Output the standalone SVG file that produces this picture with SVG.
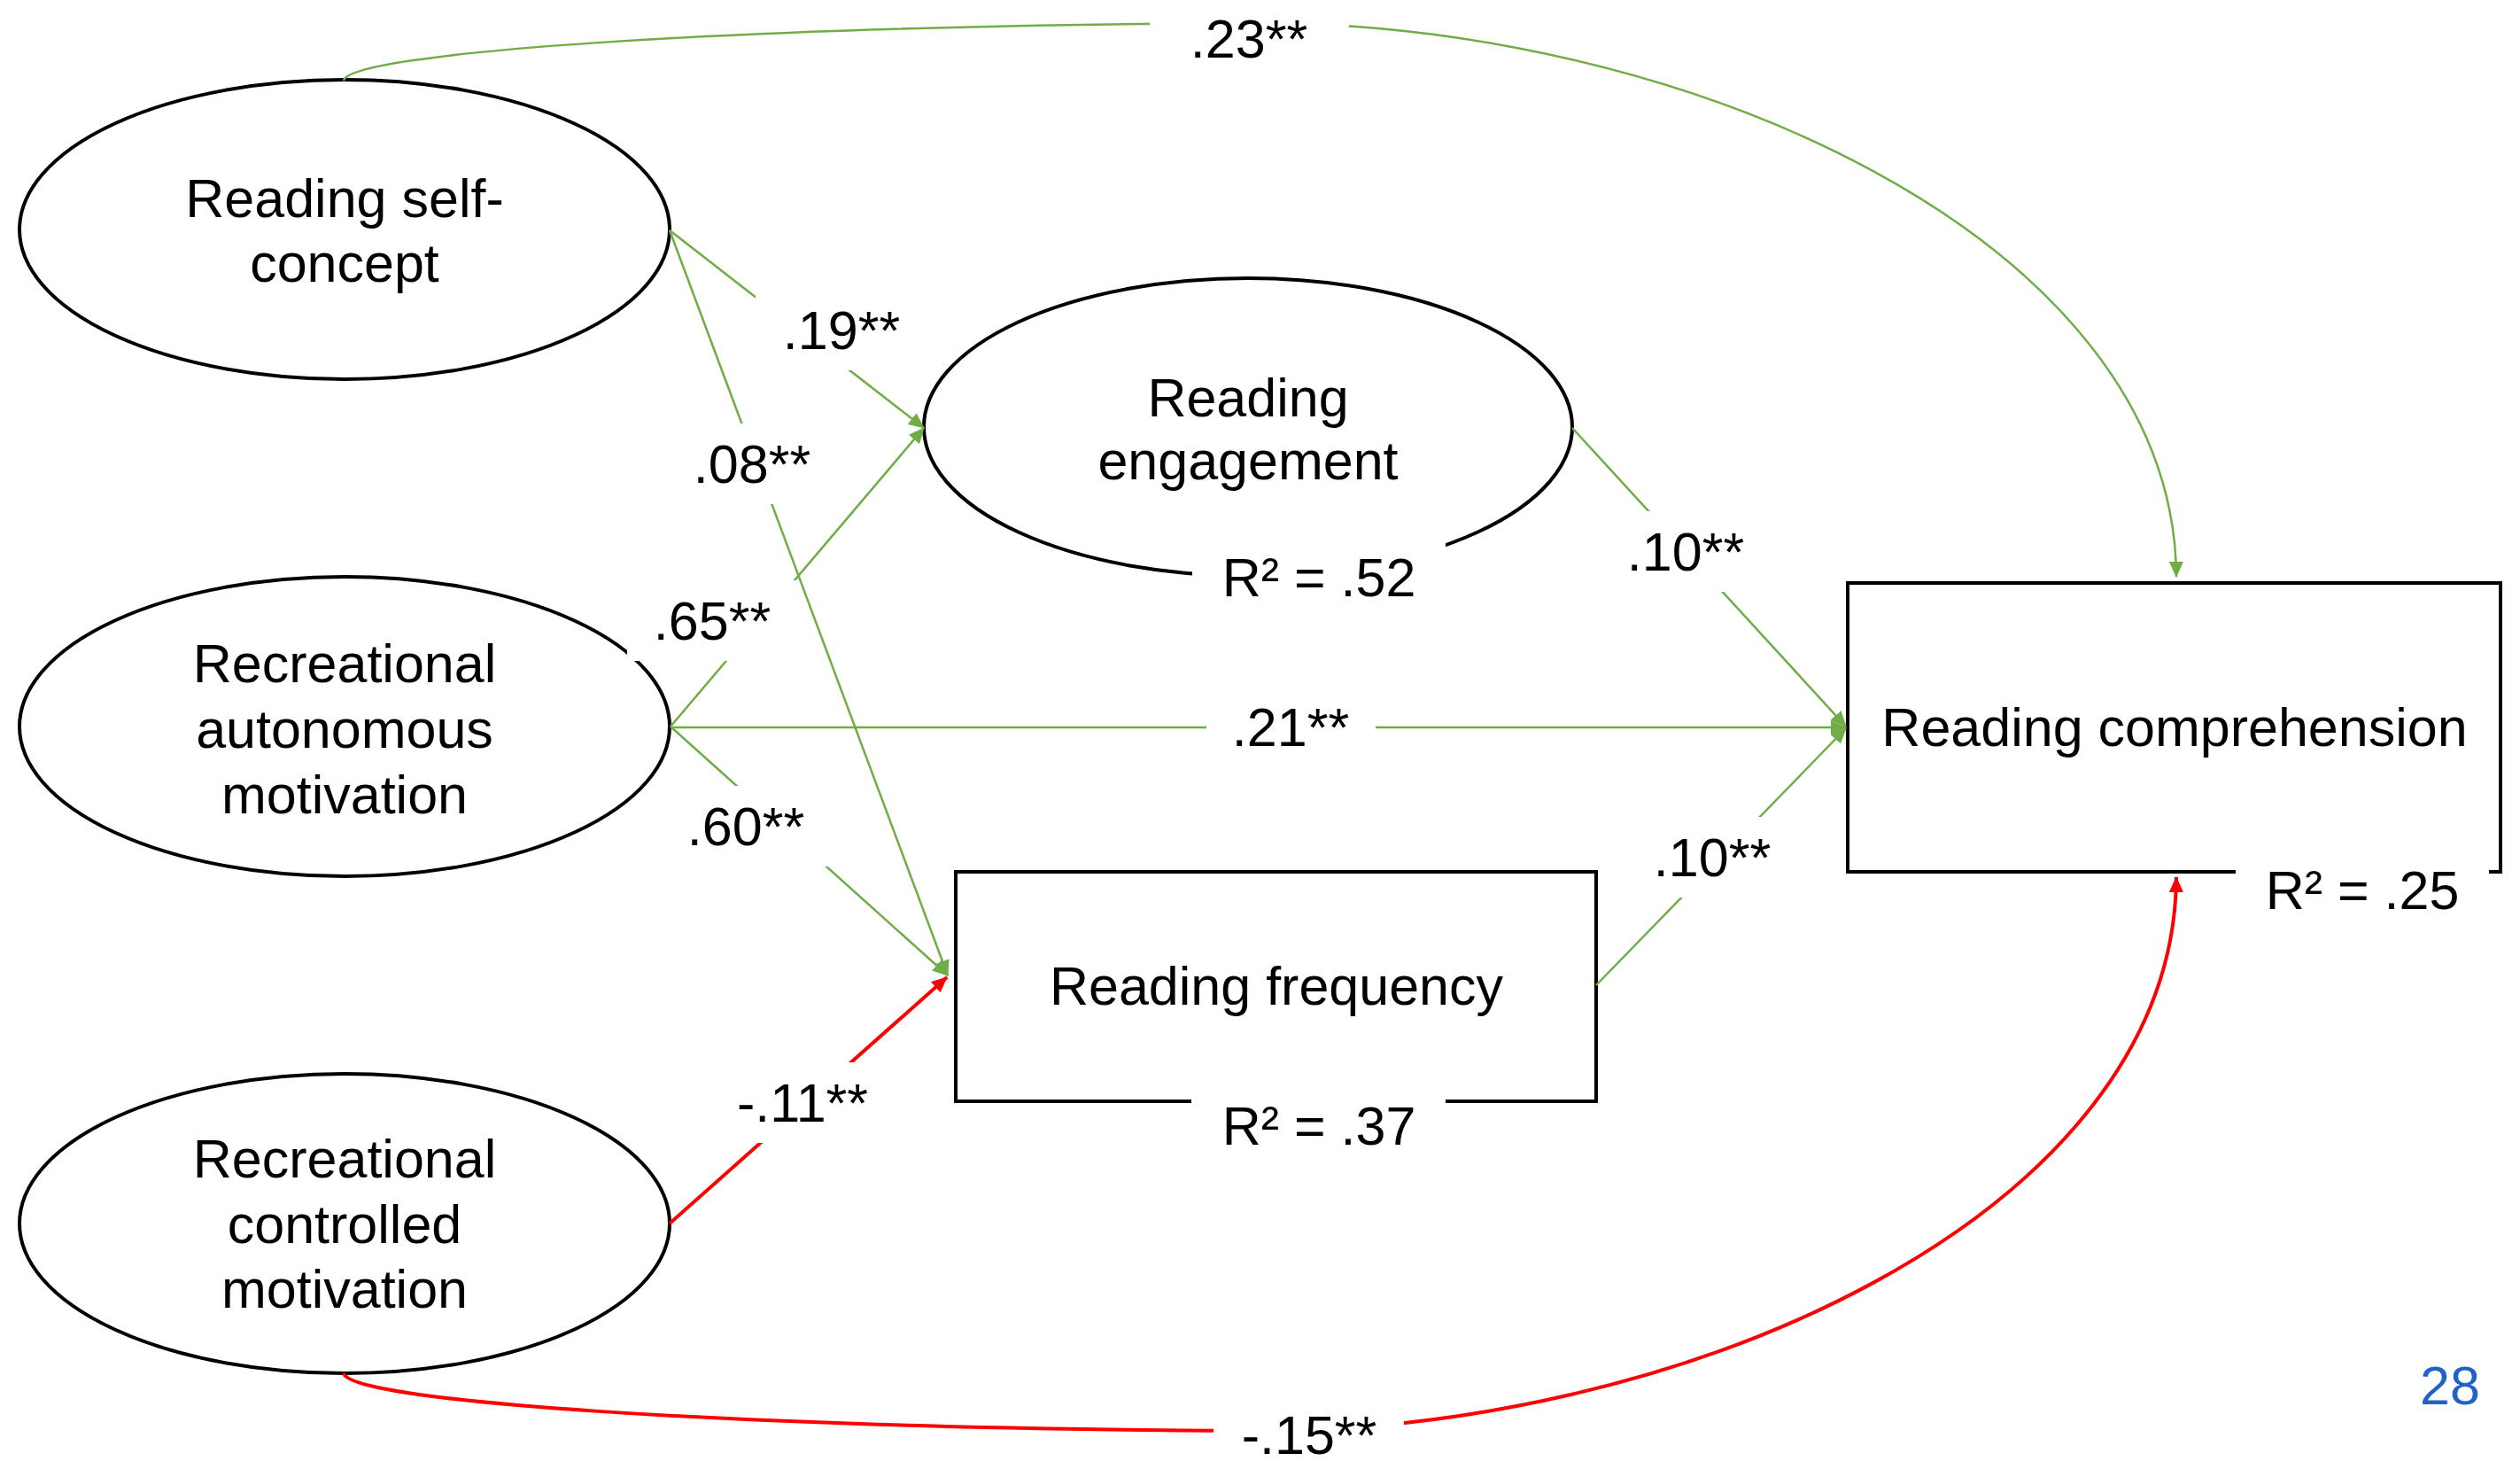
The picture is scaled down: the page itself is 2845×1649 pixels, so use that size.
<svg xmlns="http://www.w3.org/2000/svg" width="2845" height="1649" viewBox="0 0 2845 1649">
<style>
.node{fill:#fff;stroke:#000;stroke-width:4}
.t{font-family:"Liberation Sans",Arial,sans-serif;font-size:61px;fill:#000;text-anchor:middle}
.g{fill:none;stroke:#70AD47;stroke-width:2.5}
.r{fill:none;stroke:#FF0000;stroke-width:4}
.bg{fill:#fff;stroke:none}
</style>
<defs>
<marker id="ag" markerUnits="userSpaceOnUse" markerWidth="18" markerHeight="16" refX="17" refY="8" orient="auto"><path d="M0,0 L18,8 L0,16 z" fill="#70AD47"/></marker>
<marker id="ar" markerUnits="userSpaceOnUse" markerWidth="18" markerHeight="16" refX="17" refY="8" orient="auto"><path d="M0,0 L18,8 L0,16 z" fill="#FF0000"/></marker>
</defs>
<rect width="2845" height="1649" fill="#fff"/>
<g id="self-concept"><ellipse class="node" cx="389" cy="259" rx="367" ry="169"/><text class="t" x="389" y="245">Reading self-</text><text class="t" x="389" y="318">concept</text></g>
<g id="autonomous"><ellipse class="node" cx="389" cy="820" rx="367" ry="169"/><text class="t" x="389" y="770">Recreational</text><text class="t" x="389" y="844">autonomous</text><text class="t" x="389" y="918">motivation</text></g>
<g id="controlled"><ellipse class="node" cx="389" cy="1381" rx="367" ry="169"/><text class="t" x="389" y="1329">Recreational</text><text class="t" x="389" y="1403">controlled</text><text class="t" x="389" y="1476">motivation</text></g>
<g id="engagement"><ellipse class="node" cx="1409" cy="482" rx="366" ry="168"/><text class="t" x="1409" y="470">Reading</text><text class="t" x="1409" y="541">engagement</text></g>
<g id="frequency"><rect class="node" x="1079" y="984" width="723" height="259"/><text class="t" x="1441" y="1134">Reading frequency</text></g>
<g id="comprehension"><rect class="node" x="2086" y="658" width="737" height="326"/><text class="t" x="2455" y="842">Reading comprehension</text></g>
<g id="connectors">
<path class="g" d="M388,91 C395,60 800,30 1400,26 C1900,20 2455,270 2457,651" marker-end="url(#ag)"/>
<path class="r" d="M388,1550 C395,1581 800,1611 1400,1615 C1900,1621 2455,1371 2457,990" marker-end="url(#ar)"/>
<line class="g" x1="756" y1="260" x2="1043" y2="483" marker-end="url(#ag)"/>
<line class="g" x1="756" y1="260" x2="1070" y2="1101" marker-end="url(#ag)"/>
<line class="g" x1="757" y1="820" x2="1043" y2="483" marker-end="url(#ag)"/>
<line class="g" x1="757" y1="820" x2="1070" y2="1101" marker-end="url(#ag)"/>
<line class="g" x1="757" y1="821" x2="2084" y2="821" marker-end="url(#ag)"/>
<line class="r" x1="756" y1="1381" x2="1069" y2="1103" marker-end="url(#ar)"/>
<line class="g" x1="1775" y1="483" x2="2084" y2="820" marker-end="url(#ag)"/>
<line class="g" x1="1802" y1="1112" x2="2084" y2="822" marker-end="url(#ag)"/>
<rect class="bg" x="1298" y="-2" width="225" height="91"/><text class="t" x="1410" y="65">.23**</text>
<rect class="bg" x="853" y="331" width="195" height="87"/><text class="t" x="950" y="394">.19**</text>
<rect class="bg" x="752" y="478" width="194" height="91"/><text class="t" x="849" y="545">.08**</text>
<rect class="bg" x="708" y="655" width="193" height="91"/><text class="t" x="804" y="722">.65**</text>
<rect class="bg" x="745" y="887" width="194" height="91"/><text class="t" x="842" y="954">.60**</text>
<rect class="bg" x="1362" y="775" width="191" height="91"/><text class="t" x="1457" y="842">.21**</text>
<rect class="bg" x="1806" y="577" width="194" height="91"/><text class="t" x="1903" y="644">.10**</text>
<rect class="bg" x="1836" y="922" width="194" height="91"/><text class="t" x="1933" y="989">.10**</text>
<rect class="bg" x="810" y="1199" width="194" height="91"/><text class="t" x="906" y="1266">-.11**</text>
<rect class="bg" x="1370" y="1576" width="215" height="73"/><text class="t" x="1478" y="1641">-.15**</text>
</g>
<g id="r2-labels">
<rect class="bg" x="1346" y="606" width="286" height="91"/><text class="t" x="1489" y="673">R² = .52</text>
<rect class="bg" x="1345" y="1225" width="287" height="91"/><text class="t" x="1489" y="1292">R² = .37</text>
<rect class="bg" x="2524" y="959" width="286" height="91"/><text class="t" x="2667" y="1026">R² = .25</text>
</g>
<text id="page-number" x="2766" y="1585" style="font-family:'Liberation Sans',Arial,sans-serif;font-size:61px;fill:#1F62C8;text-anchor:middle">28</text>
</svg>
